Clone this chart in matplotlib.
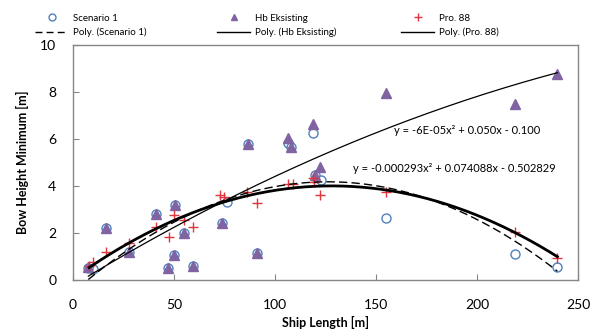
import numpy as np
import matplotlib
matplotlib.use("Agg")
import matplotlib.pyplot as plt
from matplotlib.lines import Line2D

plt.rcParams['font.family'] = ['Lato', 'DejaVu Sans']

# ---- data ----
s1_x = [7.6, 10.0, 16.3, 27.7, 41.1, 50.5, 47.2, 50.0, 55.1, 59.6, 73.6, 76.0, 86.5, 91.0,
        106.2, 107.8, 119.0, 119.8, 122.8, 154.8, 218.8, 239.8]
s1_y = [0.50, 0.45, 2.20, 1.20, 2.79, 3.19, 0.52, 1.05, 2.01, 0.61, 2.41, 3.30, 5.79, 1.13,
        5.85, 5.67, 6.25, 4.45, 4.26, 2.62, 1.10, 0.57]

hb_x = [7.6, 16.3, 27.7, 41.1, 50.5, 47.2, 50.0, 55.1, 59.6, 73.6, 86.5, 91.0,
        106.2, 107.8, 119.0, 119.6, 122.3, 154.8, 218.8, 239.8]
hb_y = [0.54, 2.20, 1.20, 2.79, 3.19, 0.52, 1.05, 2.01, 0.61, 2.41, 5.79, 1.13,
        6.03, 5.67, 6.64, 4.45, 4.82, 7.97, 7.49, 8.77]

p88_x = [8.0, 10.0, 16.2, 27.9, 41.1, 47.7, 50.2, 55.0, 59.6, 72.8, 74.8, 86.3, 90.9,
         106.6, 108.7, 118.6, 119.3, 122.3, 154.8, 218.8, 239.8]
p88_y = [0.60, 0.75, 1.21, 1.56, 2.24, 1.84, 2.77, 2.55, 2.24, 3.62, 3.52, 3.76, 3.26,
         4.09, 4.09, 4.33, 4.18, 3.62, 3.76, 2.06, 0.92]

series_names = ["Scenario 1", "Hb Eksisting", "Pro. 88"]
eq_hb = "y = -6E-05x² + 0.050x - 0.100"
eq_p88 = "y = -0.000293x² + 0.074088x - 0.502829"

x_ticks = [0, 50, 100, 150, 200, 250]
y_ticks = [0, 2, 4, 6, 8, 10]

# ---- figure ----
W, H = 595, 336
fig = plt.figure(figsize=(W/100, H/100), dpi=100)
ax = fig.add_axes([73/W, 1-280/H, (578-73)/W, (280-45)/H])

blue = '#4f81bd'
purple = '#8064a2'
red = '#e0353d'
gray = '#868686'

ax.plot(s1_x, s1_y, 'o', mfc='none', mec=blue, ms=6.5, mew=1.0, zorder=3)
ax.plot(hb_x, hb_y, '^', mfc=purple, mec=purple, ms=6.5, zorder=4)
ax.plot(p88_x, p88_y, '+', color=red, ms=7.5, mew=1.0, zorder=5)

def trend(xs, ys, **kw):
    c = np.polyfit(xs, ys, 2)
    xx = np.linspace(min(xs), max(xs), 200)
    ax.plot(xx, np.polyval(c, xx), color='black', zorder=6, **kw)

trend(s1_x, s1_y, lw=1.0, ls=(0, (6, 3)))
trend(hb_x, hb_y, lw=0.9)
trend(p88_x, p88_y, lw=2.0)

fig.text(394/W, 1-131/H, eq_hb, fontsize=8, va='center', ha='left')
fig.text(353/W, 1-168/H, eq_p88, fontsize=8, va='center', ha='left')

ax.set_xlim(0, 250)
ax.set_ylim(0, 10)
ax.set_xticks(x_ticks)
ax.set_yticks(y_ticks)
ax.tick_params(direction='in', length=4, color=gray, labelsize=10, pad=14)
ax.tick_params(axis='y', pad=12)
for s in ax.spines.values():
    s.set_color(gray)
    s.set_linewidth(1.0)

ax.set_xlabel("Ship Length [m]", fontsize=9, fontweight='bold', labelpad=3)
ax.set_ylabel("Bow Height Minimum [m]", fontsize=9, fontweight='bold', labelpad=8)

col_handles = [
    (Line2D([], [], ls='none', marker='o', mfc='none', mec=blue, ms=5),
     Line2D([], [], color='black', lw=1.0, ls=(0, (5, 3)))),
    (Line2D([], [], ls='none', marker='^', mfc=purple, mec=purple, ms=5),
     Line2D([], [], color='black', lw=1.0)),
    (Line2D([], [], ls='none', marker='+', color=red, ms=6),
     Line2D([], [], color='black', lw=1.0)),
]
col_x = [35, 217, 401]
for name, hs, xpx in zip(series_names, col_handles, col_x):
    fig.legend(list(hs), [name, f"Poly. ({name})"], loc='center left',
               bbox_to_anchor=(xpx/W, 1-25.5/H), frameon=False, fontsize=7,
               handlelength=3.4, handletextpad=0.5, labelspacing=0.55,
               borderpad=0, borderaxespad=0)

fig.savefig("out.png", dpi=100)
